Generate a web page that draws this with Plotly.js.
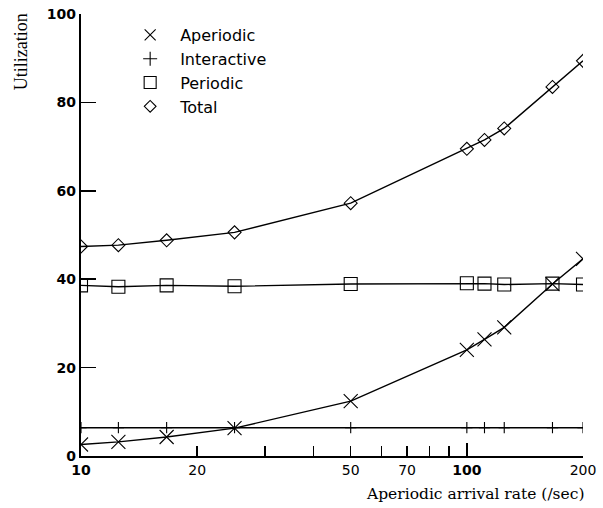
<!DOCTYPE html>
<html>
<head>
<meta charset="utf-8">
<script src="https://cdn.plot.ly/plotly-3.0.1.min.js"></script>
<style>html,body{margin:0;padding:0;background:#fff;}#chart{width:603px;height:508px;}</style>
</head>
<body>
<div id="chart"></div>
<script>
// Data
const rate = [10, 12.5, 16.67, 25, 50, 100, 111.1, 125, 166.7, 200];
const aperiodic = [2.6, 3.2, 4.3, 6.3, 12.4, 24.0, 26.4, 29.1, 38.9, 44.6];
const interactive = [6.4, 6.4, 6.4, 6.4, 6.4, 6.4, 6.4, 6.4, 6.4, 6.4];
const periodic = [38.6, 38.3, 38.6, 38.4, 38.9, 39.1, 39.0, 38.8, 39.0, 38.8];
const total = [47.4, 47.7, 48.8, 50.6, 57.2, 69.5, 71.5, 74.1, 83.5, 89.4];

const seriesNames = ["Aperiodic", "Interactive", "Periodic", "Total"];
const xTickVals = [10, 20, 30, 40, 50, 60, 70, 80, 90, 100, 200];
const xTickText = ["<b>10</b>", "20", "", "", "50", "", "70", "", "", "<b>100</b>", "200"];
const xMajorVals = [10, 100];
const yTickVals = [0, 20, 40, 60, 80, 100];

const symbols = ["x-thin-open", "cross-thin-open", "square-open", "diamond-open"];
const sizes = [14, 8, 13, 10];
const seriesData = [aperiodic, interactive, periodic, total];

const traces = [];
seriesData.forEach((ys, i) => {
  traces.push({
    x: rate, y: ys, type: "scatter", mode: "lines+markers",
    name: seriesNames[i], showlegend: false,
    line: {color: "#000", width: 1.4},
    marker: {symbol: symbols[i], size: sizes[i], color: "#000", line: {color: "#000", width: 1.1}}
  });
});
seriesData.forEach((ys, i) => {
  traces.push({
    x: [null], y: [null], type: "scatter", mode: "markers", xaxis: "x2",
    name: seriesNames[i], showlegend: true,
    marker: {symbol: symbols[i], size: [11, 10, 12, 9][i], color: "#000", line: {color: "#000", width: 1.1}}
  });
});

const logRange = [Math.log10(10), Math.log10(200)];
const layout = {
  width: 603, height: 508,
  margin: {l: 81, r: 20, t: 14, b: 52},
  paper_bgcolor: "#fff", plot_bgcolor: "#fff",
  font: {family: "DejaVu Sans, sans-serif", color: "#000"},
  showlegend: true,
  legend: {
    x: 0.078, y: 0.991, xanchor: "left", yanchor: "top",
    itemwidth: 50,
    font: {size: 16, family: "DejaVu Sans, sans-serif"},
    bgcolor: "rgba(0,0,0,0)", tracegroupgap: 0
  },
  xaxis: {
    type: "log", range: logRange,
    showline: true, linecolor: "#000", linewidth: 2.2, mirror: false,
    showgrid: false, zeroline: false,
    tickmode: "array", tickvals: xTickVals, ticktext: xTickText,
    ticks: "inside", ticklen: 10, tickwidth: 1.5, tickcolor: "#000",
    tickfont: {size: 14, family: "DejaVu Sans, sans-serif"}
  },
  xaxis2: {
    type: "log", range: logRange, overlaying: "x", anchor: "y",
    showline: false, showgrid: false, zeroline: false,
    tickmode: "array", tickvals: xMajorVals, showticklabels: false,
    ticks: "inside", ticklen: 13, tickwidth: 1.5, tickcolor: "#000"
  },
  yaxis: {
    range: [0, 100],
    showline: true, linecolor: "#000", linewidth: 2.2,
    showgrid: false, zeroline: false,
    tickmode: "array", tickvals: yTickVals,
    ticks: "inside", ticklen: 15, tickwidth: 1.5, tickcolor: "#000",
    tickfont: {size: 14, weight: "bold", family: "DejaVu Sans, sans-serif"}
  },
  annotations: [
    {text: "Utilization", xref: "paper", yref: "paper", x: -0.12, y: 0.915,
     xanchor: "center", yanchor: "middle", textangle: -90, showarrow: false,
     font: {size: 18, family: "Liberation Serif, Times New Roman, serif"}},
    {text: "Aperiodic arrival rate (/sec)", xref: "paper", yref: "paper", x: 1.005, y: -0.062,
     xanchor: "right", yanchor: "top", showarrow: false,
     font: {size: 15.5, family: "DejaVu Serif, serif"}}
  ]
};

Plotly.newPlot("chart", traces, layout, {displayModeBar: false, staticPlot: true});
</script>
</body>
</html>
